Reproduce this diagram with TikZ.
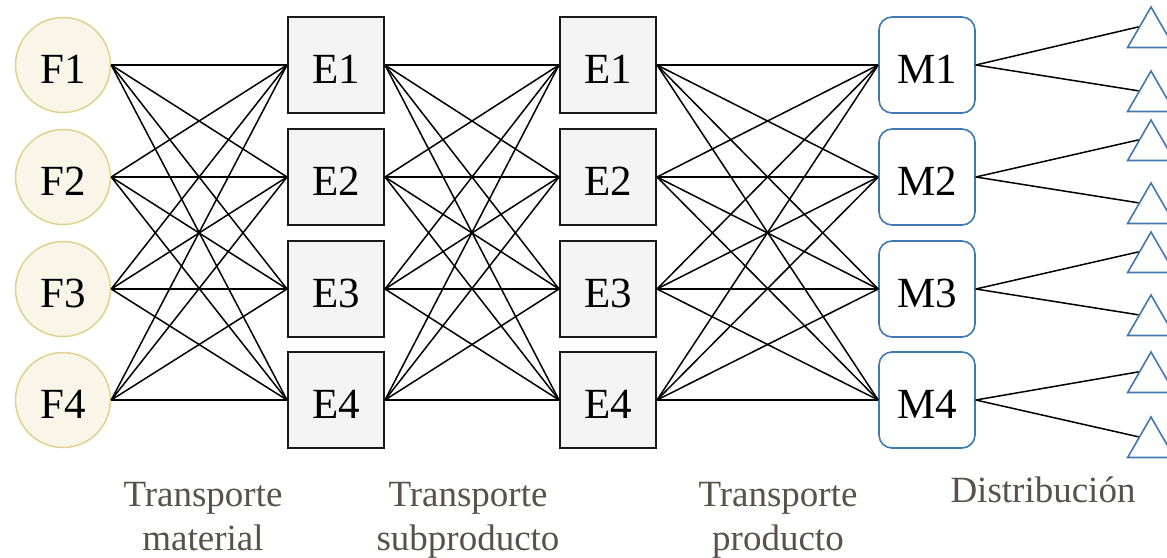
\documentclass[tikz,border=0pt]{standalone}
\usepackage{fontspec}
\setmainfont{Liberation Serif}
\usetikzlibrary{shapes.geometric}
\definecolor{facfill}{RGB}{249,245,232}
\definecolor{facdraw}{RGB}{224,210,140}
\definecolor{boxfill}{RGB}{244,244,244}
\definecolor{mktdraw}{RGB}{64,120,175}
\definecolor{labelgray}{RGB}{88,82,74}
\tikzset{
  bigtext/.style={font=\fontsize{43}{46}\selectfont, text height=40pt, text depth=4pt},
  factory/.style={circle, draw=facdraw, fill=facfill, line width=1.5pt, minimum size=95pt, inner sep=0pt, bigtext},
  whbox/.style={rectangle, draw=black!90, fill=boxfill, line width=2pt, minimum size=96pt, inner sep=0pt, bigtext},
  mkt/.style={rectangle, rounded corners=13pt, draw=mktdraw, fill=white, line width=1.6pt, minimum size=96pt, inner sep=0pt, bigtext},
  cust/.style={regular polygon, regular polygon sides=3, draw=mktdraw, fill=white, line width=1.6pt, minimum size=54pt, inner sep=0pt},
  link/.style={draw=black, line width=1.5pt},
  stage/.style={text=labelgray, align=center, anchor=north, inner sep=0pt, font=\fontsize{37}{44}\selectfont}
}
\begin{document}
\begin{tikzpicture}[x=1pt, y=-1pt]
\useasboundingbox (0,0) rectangle (1167,557);
% rows
\foreach \i/\y in {1/65, 2/177, 3/289, 4/400} {
  \node[factory] (F\i) at (63,\y) {F\i};
  \node[whbox] (A\i) at (336,\y) {E\i};
  \node[whbox] (B\i) at (608,\y) {E\i};
  \node[mkt] (M\i) at (927,\y) {M\i};
}
% customers
\node[cust] (C1a) at (1151,34) {};
\node[cust] (C1b) at (1151,98) {};
\node[cust] (C2a) at (1151,147) {};
\node[cust] (C2b) at (1151,210) {};
\node[cust] (C3a) at (1151,259) {};
\node[cust] (C3b) at (1151,322) {};
\node[cust] (C4a) at (1151,379) {};
\node[cust] (C4b) at (1151,444) {};
% complete links between stages
\foreach \i in {1,...,4} {
  \foreach \j in {1,...,4} {
    \draw[link] (F\i.east) -- (A\j.west);
    \draw[link] (A\i.east) -- (B\j.west);
    \draw[link] (B\i.east) -- (M\j.west);
  }
  \draw[link] (M\i.east) -- (C\i a.side 1);
  \draw[link] (M\i.east) -- (C\i b.side 1);
}
% stage labels
\node[stage] (L1) at (203,475) {\strut Transporte\\\strut material};
\node[stage] (L2) at (468,475) {\strut Transporte\\\strut subproducto};
\node[stage] (L3) at (778,475) {\strut Transporte\\\strut producto};
\node[stage] (L4) at (1043,471) {\strut Distribución};
\end{tikzpicture}
\end{document}
